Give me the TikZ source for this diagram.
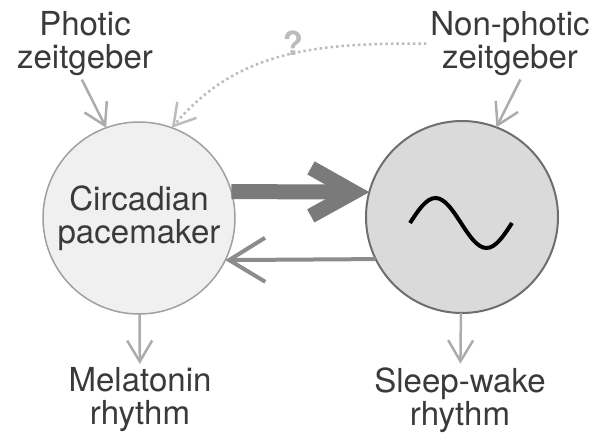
\documentclass[tikz,border=0pt]{standalone}
\usepackage{fontspec}
\setmainfont{TeX Gyre Heros}
\usepackage{tikz}
\usetikzlibrary{arrows.meta,positioning}
\definecolor{inkgray}{RGB}{58,58,58}
\definecolor{paleline}{RGB}{172,172,172}
\definecolor{pacefill}{RGB}{240,240,240}
\definecolor{pacerim}{RGB}{160,160,160}
\definecolor{oscfill}{RGB}{218,218,218}
\definecolor{oscrim}{RGB}{110,110,110}
\definecolor{strongarrow}{RGB}{122,122,122}
\definecolor{weakarrow}{RGB}{140,140,140}
\definecolor{faint}{RGB}{188,188,188}

\begin{document}
\begin{tikzpicture}[every node/.style={font=\fontsize{18.8}{18.8}\selectfont, text=inkgray, align=center, inner sep=2pt},
  clock/.style={circle, minimum size=3.84cm, inner sep=0pt, outer sep=0pt},
  feed/.style={draw=paleline, line width=0.05cm, -{Straight Barb[length=0.42cm,width=0.5cm]}}]
  \useasboundingbox (0,0) rectangle (12.1,8.68);
  % the two oscillators
  \node[clock, fill=pacefill, draw=pacerim, line width=0.03cm] (pace) at (2.78,4.32) {Circadian\\pacemaker};
  \node[clock, fill=oscfill, draw=oscrim, line width=0.04cm] (osc) at (9.24,4.34) {};
  \draw[line width=0.08cm] ([shift={(-1.04,-0.12)}]osc.center) sin ++(0.51,0.5) cos ++(0.51,-0.5) sin ++(0.51,-0.5) cos ++(0.51,0.5);
  % zeitgebers and rhythms
  \node (photic) at (1.70,7.81) {Photic\\zeitgeber};
  \node (nonphotic) at (10.20,7.81) {Non-photic\\zeitgeber};
  \node (melatonin) at (2.80,0.68) {Melatonin\\rhythm};
  \node (sleep) at (9.20,0.68) {Sleep-wake\\rhythm};
  \node[text=faint, font=\fontsize{18.8}{18.8}\selectfont\bfseries] (query) at (5.86,7.82) {?};
  % coupling
  \draw[strongarrow, line width=0.3cm, -{Straight Barb[length=0.86cm,width=0.96cm]}] (pace.16) -- (osc.165);
  \draw[weakarrow, line width=0.08cm, -{Straight Barb[length=0.72cm,width=0.88cm]}] (osc.206) -- (pace.-26);
  % inputs and outputs
  \draw[feed] (photic.-95) -- (pace.110);
  \draw[feed] (nonphotic.-74) -- (osc.69);
  \draw[feed, faint, dash pattern=on 0.05cm off 0.06cm] (nonphotic.west) to[out=180, in=50] (pace.70);
  \draw[feed] (pace) -- (melatonin);
  \draw[feed] (osc) -- (sleep);
\end{tikzpicture}
\end{document}
